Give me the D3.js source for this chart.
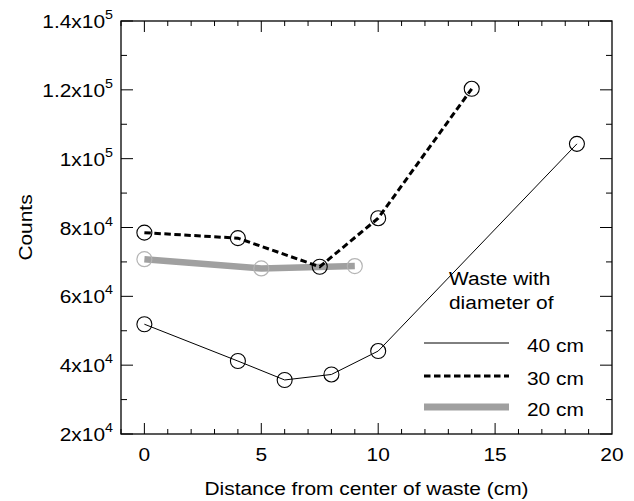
<html>
<head>
<meta charset="utf-8">
<script src="https://d3js.org/d3.v7.min.js"></script>
<style>
  body { margin: 0; background: #fff; }
  text { font-family: Arial, "Liberation Sans", sans-serif; fill: #000; }
</style>
</head>
<body>
<svg class="chart" width="634" height="501"></svg>
<script>

// series
let x40 = [0, 4, 6, 8, 10, 18.5];
let y40 = [51900, 41200, 35700, 37300, 44100, 104300];
let x30 = [0, 4, 7.5, 10, 14];
let y30 = [78500, 76900, 68600, 82700, 120300];
let x20 = [0, 5, 9];
let y20 = [70800, 68100, 68800];

let yTicks = [20000, 40000, 60000, 80000, 100000, 120000, 140000];
let yTickBase = ["2x10", "4x10", "6x10", "8x10", "1x10", "1.2x10", "1.4x10"];
let yTickExp = ["4", "4", "4", "4", "5", "5", "5"];
let xTicks = [0, 5, 10, 15, 20];

let legendNames = ["40 cm", "30 cm", "20 cm"];

const svg = d3.select('.chart');
const m = {left: 121, top: 21, right: 22, bottom: 67};
const w = 634 - m.left - m.right, h = 501 - m.top - m.bottom;
const SX = 1.1; // the original type is a bit wider than Arial

let x = d3.scaleLinear().domain([-1, 20]).range([0, w]);
let y = d3.scaleLinear().domain([20000, 140000]).range([h, 0]);

// text placed at (px,py), stretched sideways
function label(sel, px, py, anchor, rot) {
  return sel.append('text')
    .attr('transform', `translate(${px},${py})` + (rot ? ` rotate(${rot})` : '') + ` scale(${SX},1)`)
    .attr('text-anchor', anchor || 'start').attr('font-size', 19);
}

const g = svg.append('g').attr('transform', `translate(${m.left},${m.top})`);

// frame
g.append('rect').attr('width', w).attr('height', h)
  .attr('fill', 'none').attr('stroke', '#000').attr('stroke-width', 1.3);

// ticks, all pointing inward
const xMajor = d3.range(0, 16, 5), xMinor = d3.range(-1, 20, 1).filter(d => d % 5 != 0);
const yMajor = yTicks, yMinor = d3.range(30000, 140000, 20000);
function tickLines(sel, data, fn) {
  sel.selectAll(null).data(data).enter().append('line')
    .attr('stroke', '#000').attr('stroke-width', 1).each(fn);
}
tickLines(g, xMajor, function(d) { d3.select(this).attr('x1', x(d)).attr('x2', x(d)).attr('y1', h).attr('y2', h - 11); });
tickLines(g, xMinor, function(d) { d3.select(this).attr('x1', x(d)).attr('x2', x(d)).attr('y1', h).attr('y2', h - 5); });
tickLines(g, xMajor, function(d) { d3.select(this).attr('x1', x(d)).attr('x2', x(d)).attr('y1', 0).attr('y2', 11); });
tickLines(g, xMinor, function(d) { d3.select(this).attr('x1', x(d)).attr('x2', x(d)).attr('y1', 0).attr('y2', 5); });
tickLines(g, yMajor, function(d) { d3.select(this).attr('x1', 0).attr('x2', 12).attr('y1', y(d)).attr('y2', y(d)); });
tickLines(g, yMinor, function(d) { d3.select(this).attr('x1', 0).attr('x2', 6).attr('y1', y(d)).attr('y2', y(d)); });
tickLines(g, yMajor, function(d) { d3.select(this).attr('x1', w).attr('x2', w - 12).attr('y1', y(d)).attr('y2', y(d)); });
tickLines(g, yMinor, function(d) { d3.select(this).attr('x1', w).attr('x2', w - 6).attr('y1', y(d)).attr('y2', y(d)); });

// tick labels
xTicks.forEach(d => label(g, x(d), h + 27, 'middle').text(d));
yTicks.forEach((d, i) => {
  const t = label(g, -8, y(d) + 7, 'end');
  t.append('tspan').text(yTickBase[i]);
  t.append('tspan').attr('dy', -9).attr('font-size', 13).text(yTickExp[i]);
});

// axis titles
label(svg, m.left + w / 2, 495, 'middle').text('Distance from center of waste (cm)');
label(svg, 32, m.top + h / 2, 'middle', -90).text('Counts');

// series
const line = d3.line().x(d => x(d[0])).y(d => y(d[1]));
const s20 = d3.zip(x20, y20), s30 = d3.zip(x30, y30), s40 = d3.zip(x40, y40);

g.append('path').datum(s20).attr('d', line).attr('fill', 'none')
  .attr('stroke', '#a0a0a0').attr('stroke-width', 6.5);
g.selectAll('.c20').data(s20).enter().append('circle')
  .attr('cx', d => x(d[0])).attr('cy', d => y(d[1])).attr('r', 7.5)
  .attr('fill', 'none').attr('stroke', '#b4b4b4').attr('stroke-width', 1.2);

g.append('path').datum(s40).attr('d', line).attr('fill', 'none')
  .attr('stroke', '#000').attr('stroke-width', 1);
g.selectAll('.c40').data(s40).enter().append('circle')
  .attr('cx', d => x(d[0])).attr('cy', d => y(d[1])).attr('r', 7.5)
  .attr('fill', 'none').attr('stroke', '#000').attr('stroke-width', 1.1);

g.append('path').datum(s30).attr('d', line).attr('fill', 'none')
  .attr('stroke', '#000').attr('stroke-width', 3).attr('stroke-dasharray', '6.5,3.5');
g.selectAll('.c30').data(s30).enter().append('circle')
  .attr('cx', d => x(d[0])).attr('cy', d => y(d[1])).attr('r', 7.5)
  .attr('fill', 'none').attr('stroke', '#000').attr('stroke-width', 1.1);

// legend
label(svg, 449, 285).text('Waste with');
label(svg, 449, 309).text('diameter of');
const legY = [343, 376, 407];
const legStyle = [
  {stroke: '#000', width: 1, dash: null},
  {stroke: '#000', width: 3, dash: '6.5,3.5'},
  {stroke: '#a0a0a0', width: 7, dash: null}
];
legendNames.forEach((name, i) => {
  svg.append('line').attr('x1', 424).attr('x2', 509).attr('y1', legY[i]).attr('y2', legY[i])
    .attr('stroke', legStyle[i].stroke).attr('stroke-width', legStyle[i].width)
    .attr('stroke-dasharray', legStyle[i].dash);
  label(svg, 527, legY[i] + 9).text(name);
});

</script>
</body>
</html>
